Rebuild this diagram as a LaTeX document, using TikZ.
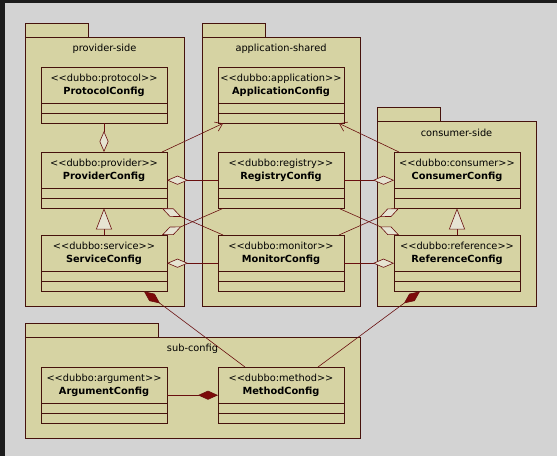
\documentclass[tikz,border=0pt]{standalone}
\usepackage{fontspec}
\setmainfont{DejaVu Sans}
\usetikzlibrary{arrows.meta,shapes.multipart}
\definecolor{bgcol}{RGB}{211,211,211}
\definecolor{framecol}{RGB}{28,28,28}
\definecolor{pkgcol}{RGB}{214,211,163}
\definecolor{boxcol}{RGB}{70,18,12}
\definecolor{linkcol}{RGB}{105,15,15}
\definecolor{compcol}{RGB}{125,10,10}
\definecolor{opencol}{RGB}{230,228,210}
\newcommand\stereo[1]{\rule{0pt}{14.5pt}<\kern0pt<dubbo:#1>\kern0pt>}
\newcommand\clsname[1]{\textbf{#1}\rule[-8.5pt]{0pt}{8.5pt}}
\tikzset{
  pkg/.style={draw=boxcol, fill=pkgcol, line width=0.8pt},
  pkgtitle/.style={inner sep=0pt, font=\fontsize{9.8}{11}\selectfont},
  cls/.style={rectangle split, rectangle split parts=3, draw=boxcol, fill=pkgcol,
    line width=0.8pt, inner sep=0pt, outer sep=0pt, text width=126pt, align=center,
    anchor=north west, rectangle split empty part height=9pt,
    rectangle split empty part depth=0pt, font=\fontsize{9.8}{13}\selectfont},
  link/.style={draw=linkcol, line width=0.6pt},
  agg/.style={{Diamond[length=21pt,width=9pt,fill=opencol]}-},
  comp/.style={{Diamond[length=20pt,width=9pt,fill=compcol]}-},
  gen/.style={{Triangle[length=21pt,width=16pt,fill=opencol]}-},
  dep/.style={-{Straight Barb[length=7pt,width=10pt]}}
}
\begin{document}
\begin{tikzpicture}[x=1pt,y=-1pt]
  \useasboundingbox (0,0) rectangle (557,456);
  \fill[bgcol] (0,0) rectangle (557,456);
  \fill[framecol] (0,0) rectangle (557,3);
  \fill[framecol] (0,0) rectangle (5,456);
  \draw[pkg] (25,23) rectangle (88,37);
  \draw[pkg] (25,37) rectangle (184,306);
  \draw[pkg] (202,23) rectangle (265,37);
  \draw[pkg] (202,37) rectangle (360,306);
  \draw[pkg] (377,107) rectangle (440,121);
  \draw[pkg] (377,121) rectangle (536,306);
  \draw[pkg] (25,323) rectangle (158,337);
  \draw[pkg] (25,337) rectangle (360,438);
  \path
    (104.5,49) node[pkgtitle] (providerside){provider-side}
    (281,49) node[pkgtitle] (appshared){application-shared}
    (456.5,133) node[pkgtitle] (consumerside){consumer-side}
    (192.5,349) node[pkgtitle] (subconfig){sub-config};
  \path
    (41,67) node[cls] (protocol){\stereo{protocol}\\\clsname{ProtocolConfig}}
    (41,152) node[cls] (provider){\stereo{provider}\\\clsname{ProviderConfig}}
    (41,235) node[cls] (service){\stereo{service}\\\clsname{ServiceConfig}}
    (218,67) node[cls] (application){\stereo{application}\\\clsname{ApplicationConfig}}
    (218,152) node[cls] (registry){\stereo{registry}\\\clsname{RegistryConfig}}
    (218,235) node[cls] (monitor){\stereo{monitor}\\\clsname{MonitorConfig}}
    (394,152) node[cls] (consumer){\stereo{consumer}\\\clsname{ConsumerConfig}}
    (394,235) node[cls] (reference){\stereo{reference}\\\clsname{ReferenceConfig}}
    (41,367) node[cls] (argument){\stereo{argument}\\\clsname{ArgumentConfig}}
    (218,367) node[cls] (method){\stereo{method}\\\clsname{MethodConfig}};
  \begin{scope}[link]
    \draw[agg] (provider.north) to (protocol.south);
    \draw[agg] (provider.east) to (registry.west);
    \draw[agg] (consumer.west) to (registry.east);
    \draw[agg] (service.east) to (monitor.west);
    \draw[agg] (reference.west) to (monitor.east);
    \draw[agg] ([xshift=-5pt]provider.south east) to ([xshift=5pt]monitor.north west);
    \draw[agg] ([xshift=-5pt]service.north east) to ([xshift=5pt]registry.south west);
    \draw[agg] ([xshift=5pt]consumer.south west) to ([xshift=-5pt]monitor.north east);
    \draw[agg] ([xshift=5pt]reference.north west) to ([xshift=-5pt]registry.south east);
    \draw[dep] ([xshift=-5pt]provider.north east) to ([xshift=5pt]application.south west);
    \draw[dep] ([xshift=5pt]consumer.north west) to ([xshift=-5pt]application.south east);
    \draw[gen] (provider.south) to (service.north);
    \draw[gen] (consumer.south) to (reference.north);
    \draw[comp] ([xshift=-23pt]service.south east) to ([xshift=27pt]method.north west);
    \draw[comp] ([xshift=26pt]reference.south west) to ([xshift=-26pt]method.north east);
    \draw[comp] (method.west) to (argument.east);
  \end{scope}
\end{tikzpicture}
\end{document}
